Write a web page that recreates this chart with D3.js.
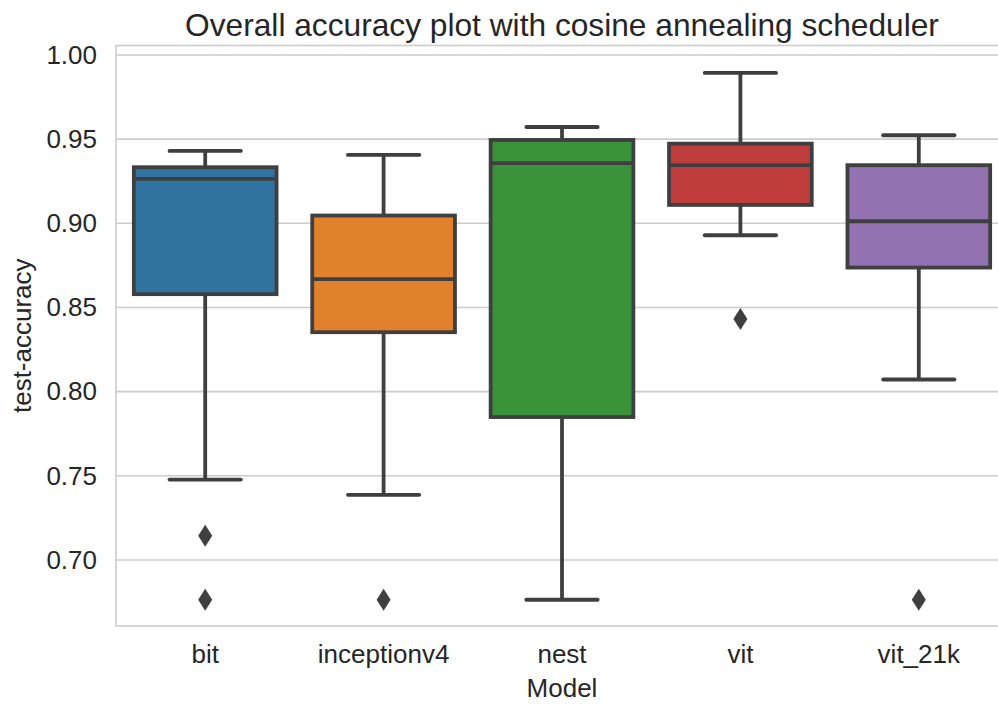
<!DOCTYPE html>
<html>
<head>
<meta charset="utf-8">
<script src="https://cdn.jsdelivr.net/npm/d3@7"></script>
<style>
  html, body { margin: 0; padding: 0; background: #ffffff; }
  svg { display: block; }
  text { font-family: Arial, "Liberation Sans", sans-serif; fill: #262626; }
</style>
</head>
<body>
<svg id="chart" width="998" height="704"></svg>
<script>
// Box statistics per model (test accuracy)
const models     = ["bit", "inceptionv4", "nest", "vit", "vit_21k"];
const whiskerLo  = [0.7478, 0.7387, 0.6764, 0.8929, 0.8072];
const q1         = [0.8579, 0.8353, 0.7849, 0.9109, 0.8737];
const medians    = [0.9264, 0.8668, 0.9357, 0.9345, 0.9012];
const q3         = [0.9333, 0.9046, 0.9495, 0.9473, 0.9345];
const whiskerHi  = [0.9430, 0.9406, 0.9572, 0.9893, 0.9523];
const outliers   = [[0.7144, 0.6764], [0.6764], [], [0.8431], [0.6764]];
const colors     = ["#3274a1", "#e1812c", "#3a923a", "#c03d3e", "#9372b2"];
const yTicks     = [0.70, 0.75, 0.80, 0.85, 0.90, 0.95, 1.00];

const margin = { left: 116, top: 45.5, right: 1008, bottom: 626 };
const svg = d3.select("#chart");

const x = d3.scaleBand().domain(models).range([margin.left, margin.right]).padding(0);
const y = d3.scaleLinear().domain([0.6608, 1.0056]).range([margin.bottom, margin.top]);

const gridColor = "#cccccc";
const edge = "#3f3f3f";
const lw = 3.8;
const fontFam = "Arial, 'Liberation Sans', sans-serif";
const labelSize = 26;

// horizontal grid
svg.append("g")
  .selectAll("line")
  .data(yTicks)
  .join("line")
  .attr("x1", margin.left).attr("x2", margin.right)
  .attr("y1", d => y(d)).attr("y2", d => y(d))
  .attr("stroke", gridColor).attr("stroke-width", 1.6);

// frame (spines)
svg.append("rect")
  .attr("x", margin.left).attr("y", margin.top)
  .attr("width", margin.right - margin.left)
  .attr("height", margin.bottom - margin.top)
  .attr("fill", "none").attr("stroke", gridColor).attr("stroke-width", 1.6);

// y axis labels
const yAxis = d3.axisLeft(y).tickValues(yTicks).tickFormat(d3.format(".2f")).tickSize(0).tickPadding(19);
const gy = svg.append("g").attr("transform", `translate(${margin.left},0)`).call(yAxis);
gy.select(".domain").remove();
gy.selectAll("text").attr("font-size", labelSize).attr("fill", "#262626").style("font-family", fontFam);

// x axis labels
const xAxis = d3.axisBottom(x).tickSize(0).tickPadding(19);
const gx = svg.append("g").attr("transform", `translate(0,${margin.bottom})`).call(xAxis);
gx.select(".domain").remove();
gx.selectAll("text").attr("font-size", labelSize).attr("fill", "#262626").style("font-family", fontFam);

// boxes
const boxW = x.bandwidth() * 0.8;
const capW = boxW / 2;
const boxes = svg.append("g");
models.forEach((m, i) => {
  const cx = x(m) + x.bandwidth() / 2;
  const g = boxes.append("g");
  // whiskers
  g.append("line").attr("x1", cx).attr("x2", cx)
    .attr("y1", y(q3[i])).attr("y2", y(whiskerHi[i]))
    .attr("stroke", edge).attr("stroke-width", lw);
  g.append("line").attr("x1", cx).attr("x2", cx)
    .attr("y1", y(q1[i])).attr("y2", y(whiskerLo[i]))
    .attr("stroke", edge).attr("stroke-width", lw);
  // box
  g.append("rect")
    .attr("x", cx - boxW / 2).attr("width", boxW)
    .attr("y", y(q3[i])).attr("height", y(q1[i]) - y(q3[i]))
    .attr("fill", colors[i]).attr("stroke", edge).attr("stroke-width", lw);
  // median
  g.append("line").attr("x1", cx - boxW / 2).attr("x2", cx + boxW / 2)
    .attr("y1", y(medians[i])).attr("y2", y(medians[i]))
    .attr("stroke", edge).attr("stroke-width", lw);
  // caps
  [whiskerHi[i], whiskerLo[i]].forEach(v => {
    g.append("line").attr("x1", cx - capW / 2).attr("x2", cx + capW / 2)
      .attr("y1", y(v)).attr("y2", y(v))
      .attr("stroke", edge).attr("stroke-width", lw).attr("stroke-linecap", "round");
  });
  // outliers (thin diamonds)
  outliers[i].forEach(v => {
    const yy = y(v), hh = 11, ww = 7;
    g.append("path")
      .attr("d", `M${cx},${yy - hh}L${cx + ww},${yy}L${cx},${yy + hh}L${cx - ww},${yy}Z`)
      .attr("fill", edge);
  });
});

// title and axis titles
svg.append("text")
  .attr("x", (margin.left + margin.right) / 2).attr("y", 36)
  .attr("text-anchor", "middle").attr("font-size", 31.7)
  .text("Overall accuracy plot with cosine annealing scheduler");

svg.append("text")
  .attr("x", (margin.left + margin.right) / 2).attr("y", 696.7)
  .attr("text-anchor", "middle").attr("font-size", labelSize)
  .text("Model");

svg.append("text")
  .attr("transform", `translate(31,${(margin.top + margin.bottom) / 2}) rotate(-90)`)
  .attr("text-anchor", "middle").attr("font-size", labelSize)
  .text("test-accuracy");
</script>
</body>
</html>
